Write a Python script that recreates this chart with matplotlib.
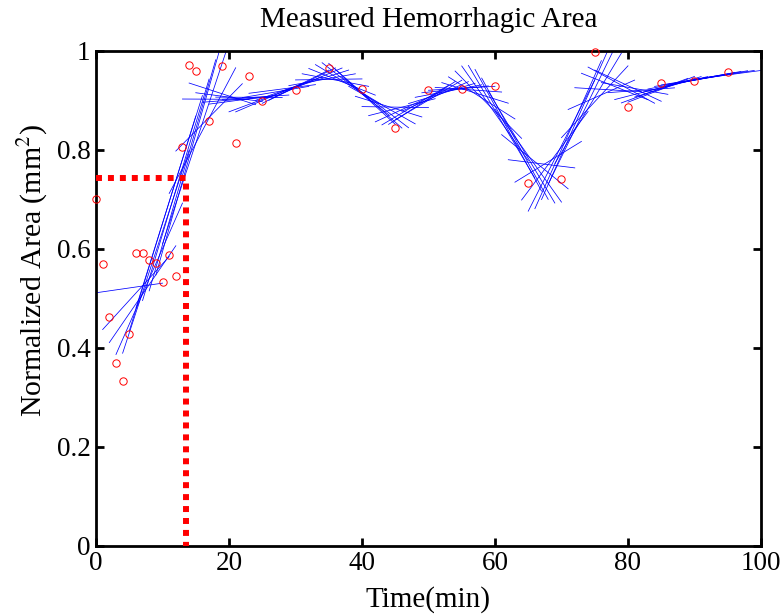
import numpy as np
import matplotlib
matplotlib.use("Agg")
import matplotlib.pyplot as plt

# measured points
time_min = [0, 1, 2, 3, 4, 5, 6, 7, 8, 9, 10, 11, 12, 13, 14, 15, 17, 19, 21, 23, 25,
            30, 35, 40, 45, 50, 55, 60, 65, 70, 75, 80, 85, 90, 95]
area = [0.700, 0.570, 0.463, 0.370, 0.333, 0.427, 0.592, 0.592, 0.577, 0.571, 0.533,
        0.587, 0.545, 0.805, 0.972, 0.960, 0.858, 0.970, 0.813, 0.949, 0.899,
        0.921, 0.966, 0.923, 0.843, 0.921, 0.923, 0.929, 0.732, 0.741, 0.997,
        0.886, 0.934, 0.938, 0.956]

# sliding window for the local linear fits (minutes)
win_starts = np.arange(0, 91, 1)
win_len = 10

# marked level
mark_time = 13.5
mark_area = 0.743

xticks = [0, 20, 40, 60, 80, 100]
yticks = [0, 0.2, 0.4, 0.6, 0.8, 1]
ytick_labels = ['0', '0.2', '0.4', '0.6', '0.8', '1']

plt.rcParams['font.family'] = ['Liberation Serif', 'DejaVu Serif']
plt.rcParams['mathtext.fontset'] = 'stix'

fig = plt.figure(figsize=(7.82, 6.14), dpi=100)
ax = fig.add_axes([0.1228, 0.1112, 0.8503, 0.8062])

# local linear regression over each 10 minute window (series resampled per minute)
for s in win_starts:
    tw = s + np.arange(win_len + 1, dtype=float)
    aw = np.interp(tw, time_min, area)
    p = np.polyfit(tw, aw, 1)
    ax.plot([s, s + win_len], np.polyval(p, [s, s + win_len]), color='blue', lw=0.55)

ax.plot(time_min, area, 'o', ms=5.3, mfc='none', mec='red', mew=0.7, clip_on=False, zorder=3)

ax.plot([0, mark_time, mark_time], [mark_area, mark_area, 0], color='red', lw=4.3,
        linestyle=(0, (1, 1)), zorder=4)

ax.set_xlim(0, 100)
ax.set_ylim(0, 1)
ax.set_xticks(xticks)
ax.set_yticks(yticks)
ax.set_yticklabels(ytick_labels)
ax.tick_params(direction='in', length=6, width=2, labelsize=19.5, top=True, right=True, pad=4)
for sp in ax.spines.values():
    sp.set_linewidth(2)

ax.set_xlabel('Time(min)', fontsize=21, labelpad=7)
ax.set_ylabel('Normalized Area (mm$^2$)', fontsize=21.5)
ax.yaxis.set_label_coords(-0.069, 0.557)
ax.set_title('Measured Hemorrhagic Area', fontsize=21, pad=17)

fig.savefig('out.png', dpi=100)
